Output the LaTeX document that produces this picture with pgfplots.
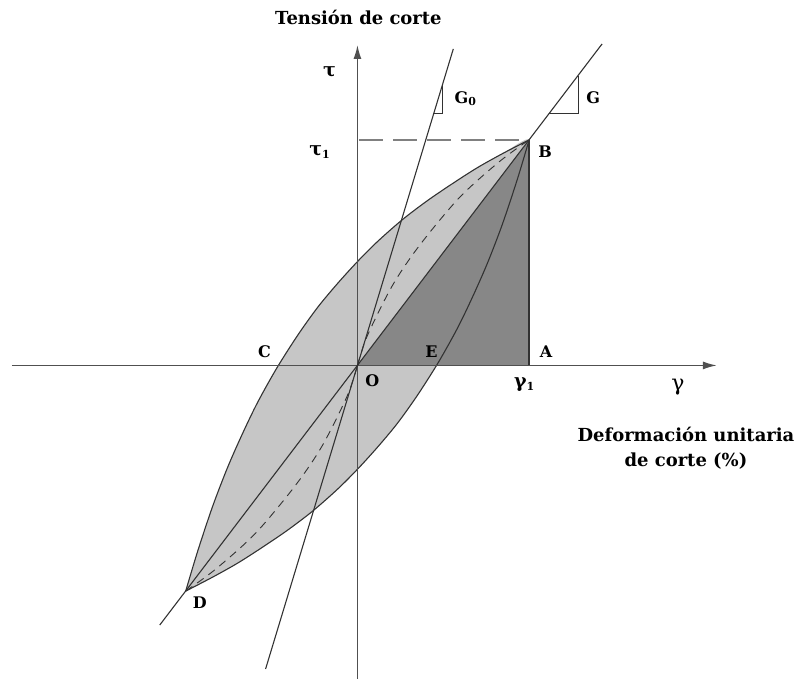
\documentclass[border=0pt]{standalone}
\usepackage{pgfplots}
\pgfplotsset{compat=1.18}
\usepackage{fontspec}
\setmainfont{DejaVu Serif}
\usetikzlibrary{arrows.meta}

\definecolor{loopgray}{RGB}{198,198,198}
\definecolor{trigray}{RGB}{135,135,135}
\definecolor{linegray}{RGB}{50,50,50}
\definecolor{axgray}{RGB}{80,80,80}

\tikzset{
  lbl/.style={font=\bfseries\fontsize{8}{9.5}\selectfont},
  grk/.style={font=\bfseries\fontsize{9.5}{11}\selectfont},
}

\begin{document}
\begin{tikzpicture}
\begin{axis}[
  scale only axis,
  width=400.5pt, height=340pt,
  xmin=-358, xmax=443,
  ymin=-314, ymax=366,
  hide axis,
  clip=false,
]
\path (rel axis cs:0,0) rectangle (rel axis cs:1,1);

% hysteresis loop (upper branch D->B, lower branch B->D)
\addplot[fill=loopgray, draw=none, smooth] coordinates {
  (-172,-226)(-160,-186)(-145,-141)(-130,-102)(-115,-68)(-100,-37)(-81,-3)
  (-60,30)(-40,58)(-20,82)(0,104)(20,124)(45,146)(70,165)(95,182)(120,198)(145,212)(172,226)
  (160,186)(145,141)(130,102)(115,68)(100,37)(81,3)(60,-30)(40,-58)(20,-82)(0,-104)
  (-20,-124)(-45,-146)(-70,-165)(-95,-182)(-120,-198)(-145,-212)(-172,-226)
} --cycle;

% triangle O A B
\addplot[fill=trigray, draw=none] coordinates {(0,0)(172,0)(172,226)} --cycle;

% upper branch
\addplot[linegray, line width=0.55pt, smooth] coordinates {
  (-172,-226)(-160,-186)(-145,-141)(-130,-102)(-115,-68)(-100,-37)(-81,-3)
  (-60,30)(-40,58)(-20,82)(0,104)(20,124)(45,146)(70,165)(95,182)(120,198)(145,212)(172,226)
};
% lower branch
\addplot[linegray, line width=0.55pt, smooth] coordinates {
  (172,226)(160,186)(145,141)(130,102)(115,68)(100,37)(81,3)(60,-30)(40,-58)(20,-82)(0,-104)
  (-20,-124)(-45,-146)(-70,-165)(-95,-182)(-120,-198)(-145,-212)(-172,-226)
};

% backbone curve (dashed)
\addplot[linegray, line width=0.45pt, dash pattern=on 4pt off 3pt, smooth] coordinates {
  (-172,-226)(-142,-204)(-102,-168)(-62,-120)(-35,-80)(-10,-30)(0,0)
};
\addplot[linegray, line width=0.45pt, dash pattern=on 4pt off 3pt, smooth] coordinates {
  (0,0)(10,30)(35,80)(62,120)(102,168)(142,204)(172,226)
};

% axes
\addplot[axgray, line width=0.8pt, -{Latex[length=7pt,width=4pt]}] coordinates {(-346,0)(360,0)};
\addplot[axgray, line width=0.8pt, -{Latex[length=7pt,width=4pt]}] coordinates {(0,-314)(0,321)};

% tau_1 level
\addplot[gray, line width=1.2pt, dash pattern=on 12pt off 5pt] coordinates {(2,226)(172,226)};
% A-B edge
\addplot[linegray, line width=0.7pt] coordinates {(172,0)(172,226)};

% secant modulus G and initial modulus G0
\addplot[linegray, line width=0.55pt] coordinates {(-198,-260)(245,322)};
\addplot[linegray, line width=0.55pt] coordinates {(-92,-304)(96,317)};

% slope triangles
\addplot[linegray, line width=0.5pt] coordinates {(192,252)(221,252)(221,290)};
\addplot[linegray, line width=0.5pt] coordinates {(76,252)(85,252)(85,281)};

% labels
\node[font=\bfseries\fontsize{9}{11}\selectfont] at (axis cs:1,349) {Tensión de corte};
\node[grk] at (axis cs:-28,294) {τ};
\node[grk] at (axis cs:-38,214) {τ\raisebox{-0.3ex}{\fontsize{5.5}{7}\selectfont 1}};
\node[lbl] at (axis cs:188,214) {B};
\node[lbl] at (axis cs:108,267) {G\raisebox{-0.2ex}{\fontsize{5.5}{6}\selectfont 0}};
\node[lbl] at (axis cs:236,268) {G};
\node[lbl] at (axis cs:-93,14) {C};
\node[lbl] at (axis cs:74,14) {E};
\node[lbl] at (axis cs:189,14) {A};
\node[lbl] at (axis cs:15,-15) {O};
\node[grk] at (axis cs:167,-19) {γ\raisebox{-0.3ex}{\fontsize{5.5}{7}\selectfont 1}};
\node[font=\fontsize{11}{13}\selectfont] at (axis cs:321,-22) {γ};
\node[align=center, font=\bfseries\fontsize{9}{12.5}\selectfont] at (axis cs:329,-83) {Deformación unitaria\\de corte (\%)};
\node[lbl] at (axis cs:-158,-238) {D};
\end{axis}
\end{tikzpicture}
\end{document}
